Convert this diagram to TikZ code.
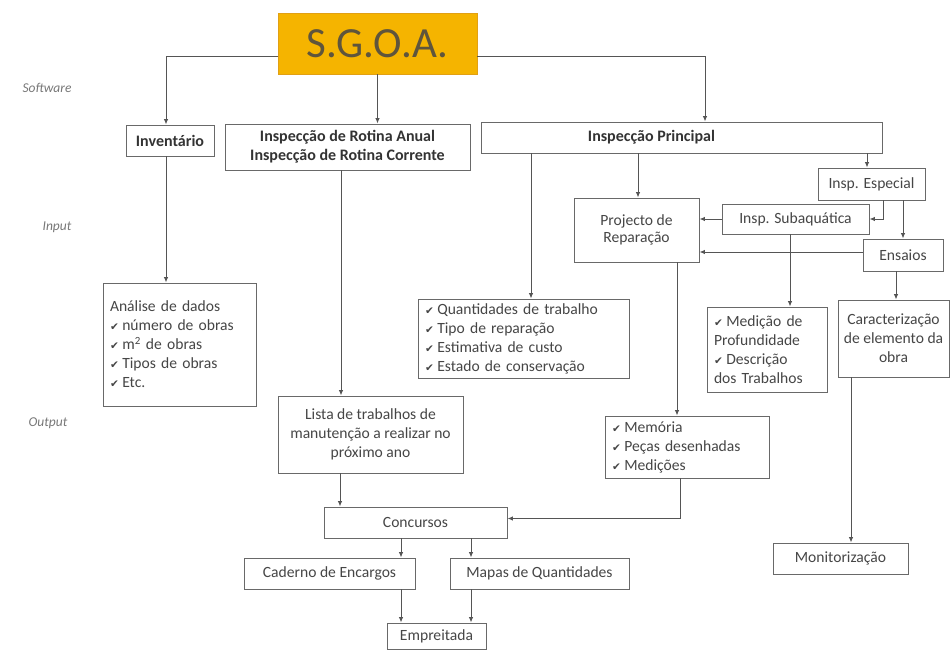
\documentclass[tikz,border=0pt]{standalone}
\usepackage{fontspec}
\setmainfont{Carlito}
\newfontfamily\dvs{DejaVu Sans}
\usetikzlibrary{arrows.meta}
\definecolor{orng}{RGB}{245,180,0}
\definecolor{orngd}{RGB}{225,160,20}
\definecolor{sgtxt}{RGB}{95,85,60}
\definecolor{boxc}{RGB}{105,105,105}
\definecolor{txtc}{RGB}{70,70,70}
\definecolor{linec}{RGB}{85,85,85}
\definecolor{lblc}{RGB}{120,120,120}
\newcommand\ckm{{\dvs\fontsize{10.5}{10.5}\selectfont\char"2714}\hspace{3.5pt}}
\begin{document}
\begin{tikzpicture}[x=1pt,y=-1pt,
  box/.style={draw=boxc, line width=0.9pt, fill=white, inner sep=0pt, text=txtc,
    font=\fontsize{15.6}{19}\selectfont, align=center},
  bbox/.style={box, text=black!80, font=\fontsize{16}{19}\selectfont\bfseries},
  lbox/.style={box, align=left, inner xsep=7pt},
  lbl/.style={text=lblc, font=\fontsize{13.5}{16}\selectfont\itshape, inner sep=2pt},
  arr/.style={draw=linec, line width=1pt, -{Latex[length=5.5pt,width=4.5pt]}},
  ln/.style={draw=linec, line width=1pt}]
\useasboundingbox (0,0) rectangle (951,650);
\fill[white] (0,0) rectangle (951,650);

% level labels
\node[lbl] (lsw) at (47,88) {Software};
\node[lbl] (lin) at (57,227) {Input};
\node[lbl] (lout) at (48,423) {Output};

% top
\node[draw=orngd, fill=orng, line width=0.8pt, minimum width=199pt, minimum height=61pt, inner sep=0pt,
  text=sgtxt, font=\fontsize{43}{48}\selectfont] (sgoa) at (377.5,43.5) {S.G.O.A.};

% software level
\node[bbox, minimum width=88pt, minimum height=31pt] (inv) at (170,140.5) {Inventário};
\node[bbox, minimum width=245pt, minimum height=46pt] (rot) at (347.5,147) {Inspecção de Rotina Anual\\Inspecção de Rotina Corrente};
\node[bbox, minimum width=401pt, minimum height=31pt] (princ) at (681.5,137.5) {\hspace*{-60pt}Inspecção Principal};

% input level
\node[box, minimum width=107pt, minimum height=32pt] (esp) at (871.5,184) {Insp. Especial};
\node[box, minimum width=125pt, minimum height=64pt, font=\fontsize{15.6}{17}\selectfont] (proj) at (636.5,230) {Projecto de\\Reparação};
\node[box, minimum width=147pt, minimum height=30pt] (sub) at (795.5,219) {Insp. Subaquática};
\node[box, minimum width=80pt, minimum height=32pt] (ens) at (903,255) {Ensaios};

\node[lbox, text width=139pt, minimum height=123pt] (ana) at (179.5,344.5)
  {Análise de dados\\\ckm número de obras\\\ckm m\textsuperscript{2} de obras\\\ckm Tipos de obras\\\ckm Etc.};
\node[lbox, text width=197pt, minimum height=79pt] (quant) at (523.5,338.5)
  {\ckm Quantidades de trabalho\\\ckm Tipo de reparação\\\ckm Estimativa de custo\\\ckm Estado de conservação};
\node[lbox, text width=106pt, minimum height=85pt] (med) at (767,349.5)
  {\ckm Medição de\\Profundidade\\\ckm Descrição\\dos Trabalhos};
\node[box, minimum width=111pt, minimum height=77pt] (car) at (893.5,338.5)
  {Caracterização\\de elemento da\\obra};

% output level
\node[box, minimum width=185pt, minimum height=77pt] (lista) at (370.5,434.5)
  {Lista de trabalhos de\\manutenção a realizar no\\próximo ano};
\node[lbox, text width=150pt, minimum height=62pt] (mem) at (687,447)
  {\ckm Memória\\\ckm Peças desenhadas\\\ckm Medições};

\node[box, minimum width=183pt, minimum height=31pt] (conc) at (415.5,522.5) {Concursos};
\node[box, minimum width=171pt, minimum height=31pt] (cad) at (329.5,573.5) {Caderno de Encargos};
\node[box, minimum width=179pt, minimum height=31pt] (map) at (539.5,573.5) {Mapas de Quantidades};
\node[box, minimum width=99pt, minimum height=26pt] (emp) at (436.5,636) {Empreitada};
\node[box, minimum width=135pt, minimum height=31pt] (mon) at (840.5,558.5) {Monitorização};

% connectors
\draw[arr] ([yshift=-13.5pt]sgoa.west) -| ([xshift=-4pt]inv.north);
\draw[arr] (sgoa.south) -- (sgoa.south |- rot.north);
\draw[arr] ([yshift=-13.5pt]sgoa.east) -| ([xshift=23.5pt]princ.north);

\draw[arr] ([xshift=-4pt]inv.south) -- ([xshift=-4pt]inv.south |- ana.north);
\draw[arr] ([xshift=-6.5pt]rot.south) -- ([xshift=-6.5pt]rot.south |- lista.north);

\draw[arr] ([xshift=-150.5pt]princ.south) -- ([xshift=-150.5pt]princ.south |- quant.north);
\draw[arr] ([xshift=-43.5pt]princ.south) -- ([xshift=-43.5pt]princ.south |- proj.north);
\draw[arr] ([xshift=185.5pt]princ.south) -- ([xshift=185.5pt]princ.south |- esp.north);

\draw[arr] ([xshift=11.5pt]esp.south) |- (sub.east);
\draw[arr] (ens.north |- esp.south) -- (ens.north);
\draw[arr] (sub.west) -- (proj.east |- sub.west);
\coordinate (ensw) at ([yshift=3pt]ens.west);
\draw[arr] (ensw) -- (proj.east |- ensw);

\draw[arr] ([xshift=-5.5pt]sub.south) -- ([xshift=-5.5pt]sub.south |- med.north);
\draw[arr] ([xshift=-7pt]ens.south) -- ([xshift=-7pt]ens.south |- car.north);
\draw[arr] ([xshift=40.5pt]proj.south) -- ([xshift=40.5pt]proj.south |- mem.north);
\draw[arr] ([xshift=-42.5pt]car.south) -- ([xshift=-42.5pt]car.south |- mon.north);

\draw[arr] ([xshift=-30.5pt]lista.south) -- ([xshift=-30.5pt]lista.south |- conc.north);
\draw[arr] ([xshift=-7pt]mem.south) |- ([yshift=4pt]conc.east);

\draw[arr] ([xshift=-14.5pt]conc.south) -- ([xshift=-14.5pt]conc.south |- cad.north);
\draw[arr] ([xshift=55.5pt]conc.south) -- ([xshift=55.5pt]conc.south |- map.north);
\draw[arr] ([xshift=71.5pt]cad.south) -- ([xshift=71.5pt]cad.south |- emp.north);
\draw[arr] ([xshift=-68.5pt]map.south) -- ([xshift=-68.5pt]map.south |- emp.north);
\end{tikzpicture}
\end{document}
